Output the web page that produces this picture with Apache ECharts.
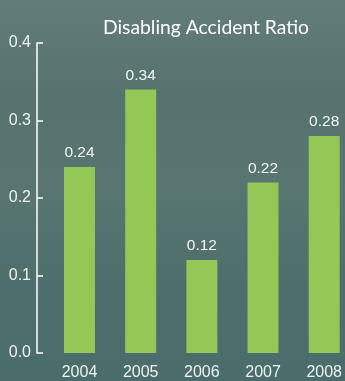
<!DOCTYPE html>
<html>
<head>
<meta charset="utf-8">
<script src="https://cdn.jsdelivr.net/npm/echarts@6/dist/echarts.min.js"></script>
<style>
html, body { margin: 0; padding: 0; }
#chart { width: 345px; height: 381px; }
</style>
</head>
<body>
<div id="chart"></div>
<script>
// data
var years = ['2004', '2005', '2006', '2007', '2008'];
var ratios = [0.24, 0.34, 0.12, 0.22, 0.28];
var yTicks = [0, 0.1, 0.2, 0.3, 0.4];

var myChart = echarts.init(document.getElementById('chart'));

var option = {
    backgroundColor: {
        type: 'linear', x: 0, y: 0, x2: 0, y2: 1,
        colorStops: [
            { offset: 0, color: '#627c7a' },
            { offset: 0.25, color: '#56736f' },
            { offset: 0.5, color: '#587571' },
            { offset: 0.75, color: '#4d6e6c' },
            { offset: 1, color: '#4a6c6b' }
        ]
    },
    animation: false,
    title: {
        text: 'Disabling Accident Ratio',
        left: 98,
        top: 13,
        textStyle: {
            color: '#ffffff',
            fontFamily: 'Lato',
            fontWeight: 'normal',
            fontSize: 19.3
        }
    },
    // bars sit on the category points, so grid edges are the first/last bar centres
    grid: {
        left: 79.5,
        right: 19.5,
        top: 43,
        bottom: 28,
        containLabel: false
    },
    xAxis: {
        type: 'category',
        data: years,
        boundaryGap: false,
        axisLine: { show: false },
        axisTick: { show: false },
        axisLabel: {
            color: '#eef2f2',
            fontFamily: 'Liberation Sans',
            fontSize: 16,
            margin: 12
        }
    },
    yAxis: {
        type: 'value',
        min: 0,
        max: 0.4,
        interval: 0.1,
        offset: 42.5,
        splitLine: { show: false },
        axisLine: { show: true, lineStyle: { color: '#ffffff', width: 1.5 } },
        axisTick: { show: true, inside: true, length: 6, lineStyle: { color: '#ffffff', width: 1.5 } },
        axisLabel: {
            color: '#eef2f2',
            fontFamily: 'Liberation Sans',
            fontSize: 16,
            margin: 6,
            formatter: function (v) { return v.toFixed(1); }
        }
    },
    series: [{
        type: 'bar',
        data: ratios,
        barWidth: 31,
        itemStyle: { color: '#93c756' },
        label: {
            show: true,
            position: 'top',
            distance: 6,
            color: '#f4f6f6',
            fontFamily: 'Liberation Sans',
            fontSize: 15.5,
            formatter: function (p) { return p.value.toFixed(2); }
        }
    }]
};
myChart.setOption(option);
</script>
</body>
</html>
